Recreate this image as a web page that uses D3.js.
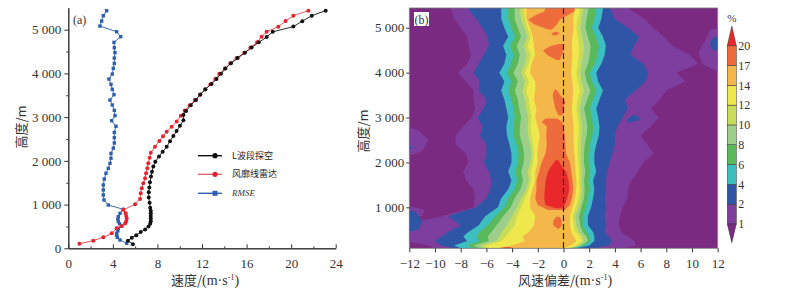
<!DOCTYPE html>
<html lang="zh">
<head>
<meta charset="utf-8">
<title>风速廓线对比</title>
<script src="https://d3js.org/d3.v7.min.js"></script>
<style>
  body { margin: 0; background: #fff; }
  svg { display: block; }
  .tick text { font-family: "Liberation Serif", "DejaVu Serif", serif; font-size: 13px; fill: #333; }
  .tick line, .domain { stroke: #333; }
  .cn { font-family: "Noto Sans CJK SC", sans-serif; font-size: 13px; fill: #333; }
  .leg { font-family: "Noto Sans CJK SC", sans-serif; font-size: 9px; fill: #222; }
  .serif { font-family: "Liberation Serif", "DejaVu Serif", serif; fill: #333; }
</style>
</head>
<body>
<svg width="800" height="292"></svg>
<script>
// ---- panel (a): profiles [speed m/s, height m] ----
const soundSpeed = [5.8,5.35,5.7,6.1,6.5,6.9,7.2,7.35,7.4,7.4,7.4,7.4,7.4,7.35,7.3,7.22,7.22,7.27,7.33,7.42,7.51,7.63,7.81,8.14,8.47,8.83,9.13,9.43,9.72,10.02,10.33,10.33,10.57,10.99,11.46,11.84,12.3,12.85,13.3,13.7,14.1,14.6,15.2,15.85,16.45,17.1,17.8,18.35,20.2,21.0,21.85,23.1];
const soundHeight = [95,170,240,300,370,430,500,560,620,680,740,800,860,930,1040,1160,1280,1390,1510,1640,1750,1870,1980,2100,2210,2320,2450,2570,2680,2800,2930,3050,3140,3270,3390,3520,3640,3760,3870,3990,4110,4230,4350,4470,4590,4710,4830,4950,5070,5195,5320,5435];

const radarSpeed = [1.0,2.24,3.14,3.9,4.34,4.79,5.1,5.2,5.24,5.2,5.15,4.94,5.99,6.44,6.5,6.59,6.73,6.89,6.98,7.09,7.18,7.3,7.4,7.78,8.17,8.5,8.83,9.28,9.73,10.1,10.45,10.9,11.35,11.85,12.3,12.75,13.2,13.55,14.05,14.55,15.1,15.8,16.35,16.95,17.35,17.8,18.85,19.5,20.2,21.55];
const radarHeight = [105,175,251,343,457,510,570,620,680,740,800,880,1006,1127,1258,1372,1486,1600,1715,1829,1944,2070,2186,2323,2454,2560,2667,2781,2900,3030,3150,3270,3390,3510,3630,3750,3870,3990,4110,4230,4350,4470,4590,4710,4839,4953,5067,5197,5319,5433];

const rmseSpeed = [5.24,4.64,4.4,4.34,4.34,4.45,4.49,4.79,4.6,4.49,4.45,4.49,4.64,4.94,3.59,3.2,3.14,3.14,3.14,3.23,3.38,3.59,3.74,3.83,3.83,4.04,4.13,4.13,4.13,4.28,3.89,4.19,4.13,3.95,3.74,4.1,3.95,3.83,3.65,3.95,4.04,4.13,4.13,4.19,4.13,4.1,4.7,4.34,2.84,2.99,3.14,3.44];
const rmseHeight = [114,190,250,300,343,400,457,510,560,610,670,723,800,891,990,1105,1220,1334,1448,1585,1715,1829,1944,2060,2170,2290,2410,2530,2650,2790,2918,3033,3155,3277,3391,3513,3635,3749,3871,3985,4115,4229,4351,4473,4587,4709,4839,4953,5082,5197,5319,5433];

const seriesNames = ["L波段探空", "风廓线雷达", "RMSE"];

// ---- panel (b): frequency (%) contour bands, edges in m/s at each height ----
const rowH = [87,150,250,350,450,600,800,1000,1200,1400,1600,1800,2000,2200,2400,2600,2800,3000,3200,3400,3600,3800,4000,4200,4400,4600,4800,5000,5200,5440];
const edge1L = [-10.0,-10.5,-12.5,-12.5,-12.5,-12.5,-9.5,-7.0,-6.9,-7.0,-7.6,-7.8,-7.4,-7.6,-8.4,-8.4,-7.8,-7.1,-6.9,-7.0,-7.0,-7.6,-8.2,-7.5,-7.2,-7.4,-7.5,-8.0,-8.5,-8.8];
const edge1R = [4.6,5.6,5.5,5.0,4.5,4.3,4.4,4.6,5.0,5.0,5.3,5.8,6.2,7.0,6.5,6.0,6.8,7.4,6.8,7.5,8.0,9.5,8.8,10.5,9.8,8.5,7.8,7.0,6.3,5.0];
const edge2L = [-8.5,-9.5,-10.0,-9.5,-9.0,-8.0,-9.0,-6.8,-6.0,-5.7,-5.6,-5.8,-6.2,-6.0,-6.0,-6.5,-6.3,-6.7,-6.2,-6.0,-6.6,-6.5,-7.0,-6.6,-6.2,-5.8,-5.9,-6.3,-6.8,-7.5];
const edge2R = [2.5,3.5,3.8,3.5,3.2,3.3,3.2,3.3,3.2,3.3,3.3,3.4,3.6,3.8,4.0,4.0,4.2,4.6,5.0,4.8,5.6,6.4,6.6,6.2,5.2,5.5,5.9,5.0,4.0,3.6];
const edge4L = [-8.0,-8.5,-7.5,-7.8,-7.4,-6.6,-6.1,-5.1,-4.85,-4.3,-4.05,-4.3,-4.05,-4.05,-4.2,-4.4,-4.45,-4.3,-4.45,-4.6,-4.85,-4.6,-5.0,-4.6,-4.45,-4.7,-4.3,-4.6,-4.85,-4.85];
const edge4R = [1.0,2.0,2.4,2.4,2.3,1.9,1.9,2.15,2.3,2.4,2.3,2.55,2.4,2.4,2.55,2.75,2.8,2.7,2.55,2.8,3.07,2.7,2.55,2.95,3.2,3.3,3.07,2.7,2.95,3.07];
const edge6L = [-7.0,-7.5,-6.5,-6.8,-6.5,-5.9,-5.3,-4.6,-4.3,-3.8,-3.6,-3.75,-3.55,-3.5,-3.65,-3.9,-3.9,-3.8,-3.9,-4.05,-4.3,-4.05,-4.4,-4.05,-3.9,-4.15,-3.8,-4.05,-4.3,-4.3];
const edge6R = [0.8,1.6,2.1,2.0,1.8,1.5,1.5,1.75,1.9,2.0,1.95,2.05,1.95,1.95,2.05,2.25,2.3,2.2,2.05,2.3,2.55,2.2,2.05,2.45,2.65,2.75,2.5,2.2,2.4,2.55];
const edge8L = [-6.5,-7.0,-5.8,-5.9,-5.6,-5.2,-4.7,-4.1,-3.8,-3.35,-3.15,-3.3,-3.1,-3.05,-3.2,-3.4,-3.4,-3.3,-3.45,-3.55,-3.8,-3.55,-3.9,-3.55,-3.4,-3.65,-3.3,-3.55,-3.8,-3.8];
const edge8R = [0.6,1.4,1.9,1.8,1.5,1.3,1.2,1.4,1.6,1.65,1.6,1.7,1.6,1.6,1.65,1.8,1.85,1.75,1.6,1.85,2.1,1.8,1.65,1.9,2.05,2.1,1.9,1.7,1.8,1.95];
const edge10L = [-6.2,-6.5,-5.2,-5.0,-4.8,-4.4,-4.0,-3.6,-3.3,-2.9,-2.7,-2.8,-2.6,-2.5,-2.6,-2.75,-2.8,-2.75,-2.9,-3.0,-3.2,-3.0,-3.3,-3.0,-2.85,-3.1,-2.8,-3.05,-3.3,-3.4];
const edge10R = [0.5,1.2,1.6,1.5,1.2,1.0,0.9,1.2,1.35,1.45,1.4,1.45,1.35,1.35,1.35,1.4,1.45,1.35,1.25,1.4,1.6,1.4,1.3,1.4,1.55,1.6,1.45,1.3,1.4,1.55];
const edge12L = [-6.0,-6.0,-4.8,-4.5,-4.2,-3.8,-3.6,-3.3,-3.0,-2.7,-2.5,-2.55,-2.35,-2.3,-2.35,-2.5,-2.55,-2.5,-2.6,-2.7,-2.9,-2.7,-3.0,-2.7,-2.55,-2.8,-2.55,-2.8,-3.0,-3.1];
const edge12R = [0.3,1.0,1.4,1.3,0.9,0.8,0.7,0.95,1.15,1.25,1.2,1.2,1.15,1.1,1.1,1.15,1.2,1.1,1.0,1.1,1.3,1.1,1.0,1.1,1.2,1.2,1.1,1.0,1.1,1.3];
const edge14L = [-5.2,-4.0,-3.0,-3.2,-2.7,-2.3,-2.2,-2.6,-2.6,-2.4,-2.2,-2.2,-2.0,-2.05,-1.95,-1.85,-2.0,-2.2,-2.1,-2.3,-2.2,-2.2,-2.6,-2.5,-2.2,-2.3,-2.4,-2.6,-2.9,-2.9];
const edge14R = [0.0,0.6,1.0,0.8,0.6,0.5,0.5,0.7,0.9,1.0,1.0,0.95,0.9,0.85,0.8,0.8,0.8,0.7,0.65,0.7,0.75,0.7,0.6,0.65,0.7,0.65,0.7,0.8,0.75,0.9];

// islands: [height, left, right]
const orangeBlobs = [
  [[4960,-1.2,-0.9],[5080,-2.3,-0.5],[5180,-2.75,-0.3],[5280,-2.2,0.3],[5360,-1.5,0.85],[5440,-1.4,0.9]],
  [[4830,-0.8,-0.6],[4870,-0.95,-0.3],[4910,-0.7,-0.5]],
  [[4280,-0.55,-0.3],[4380,-1.2,-0.15],[4490,-1.6,0.0],[4580,-1.1,0.05],[4640,-0.4,0.0]],
  [[3050,-0.4,-0.05],[3200,-0.65,0.0],[3350,-0.75,0.15],[3500,-0.85,-0.25],[3620,-0.7,-0.55]],
  [[940,-1.2,0.1],[1050,-2.0,0.5],[1200,-2.2,0.65],[1400,-2.1,0.75],[1600,-2.1,0.7],[1800,-1.9,0.6],[2000,-1.7,0.5],[2200,-1.4,0.2],[2400,-1.3,0.15],[2600,-1.35,0.1],[2800,-1.3,0.0],[2900,-1.7,-0.1],[2980,-1.4,-0.5]],
  [[530,-0.5,-0.3],[600,-0.8,-0.15],[700,-0.8,-0.15],[790,-0.55,-0.3]],
  [[87,-5.0,-3.8],[115,-4.6,-4.2]]
];
const redBlobs = [
  [[980,-0.6,-0.2],[1050,-1.4,0.1],[1200,-1.5,0.3],[1400,-1.45,0.45],[1600,-1.4,0.4],[1800,-1.2,0.2],[1900,-1.0,-0.1],[2050,-0.6,-0.4]],
  [[87,-4.8,-4.0],[100,-4.5,-4.2]]
];
// edge patches: [height, left, right]
const purplePatches = [
  [[2100,-12.5,-12.5],[2250,-12.5,-11.0],[2500,-12.5,-10.5],[2700,-12.5,-11.2],[2850,-12.5,-12.5]],
  [[3950,12.5,12.5],[4200,10.8,12.5],[4450,10.5,12.5],[4700,11.0,12.5],[4950,11.4,12.5],[5050,12.5,12.5]],
  [[800,-12.5,-11.0],[950,-12.5,-10.8],[1050,-12.5,-12.5]]
];
const bluePatches = [
  [[2250,-12.5,-12.5],[2330,-12.5,-11.6],[2420,-12.5,-12.5]],
  [[420,-12.5,-12.5],[500,-12.5,-11.3],[700,-12.5,-11.0],[900,-12.5,-11.5],[950,-12.5,-12.5]],
  [[4500,11.6,12.5],[4650,11.4,12.5],[4800,11.7,12.5]],
  [[2880,5.0,5.0],[2950,4.9,6.0],[3020,5.2,5.8],[3060,5.5,5.5]]
];

const thresholds = [1,2,4,6,8,10,12,14,17,20];
const bandColors = ["#7a2a80","#7d3e9d","#2f56a6","#3dbec0","#5ab95b","#9dcf8b","#c8dc5a","#efe84c","#f4b84a","#ee6b3b","#e8282b"];

const svg = d3.select("svg");
const fmt = d => d3.format(",")(d).replace(/,/g, " ");

// axis title: CJK part + unit in serif with superscript
function unitLabel(g, x, cnText) {
  const t = g.append("text").attr("x", x).attr("y", 285).attr("text-anchor", "middle").style("fill", "#333");
  t.append("tspan").attr("class", "cn").text(cnText);
  t.append("tspan").attr("class", "serif").style("font-size", "14px").text("(m·s");
  t.append("tspan").attr("class", "serif").attr("dy", -5).style("font-size", "8px").text("-1");
  t.append("tspan").attr("class", "serif").attr("dy", 5).style("font-size", "14px").text(")");
}

// ================= panel (a) =================
const xA = d3.scaleLinear().domain([0, 24]).range([68.3, 335.7]);
const yA = d3.scaleLinear().domain([0, 5500]).range([248.3, 7.8]);

const gA = svg.append("g");

gA.append("g").attr("transform", "translate(68.3,0)")
  .call(d3.axisLeft(yA).tickValues(d3.range(500, 5500, 1000)).tickSize(2).tickSizeOuter(0).tickFormat(""));
gA.append("g").attr("transform", "translate(68.3,0)")
  .call(d3.axisLeft(yA).tickValues(d3.range(0, 5001, 1000)).tickSize(4).tickPadding(3).tickSizeOuter(0).tickFormat(fmt));
gA.append("g").attr("transform", "translate(0,248.3)")
  .call(d3.axisBottom(xA).tickValues(d3.range(2, 24, 4)).tickSize(-2).tickSizeOuter(0).tickFormat(""));
gA.append("g").attr("transform", "translate(0,248.3)")
  .call(d3.axisBottom(xA).tickValues(d3.range(0, 25, 4)).tickSize(-4).tickPadding(10).tickSizeOuter(0));

const lineA = d3.line().x(d => xA(d[0])).y(d => yA(d[1]));
const sound = soundSpeed.map((v, i) => [v, soundHeight[i]]);
const radar = radarSpeed.map((v, i) => [v, radarHeight[i]]);
const rmse = rmseSpeed.map((v, i) => [v, rmseHeight[i]]);

gA.append("path").datum(rmse).attr("d", lineA).attr("fill", "none").attr("stroke", "#2d5fb3").attr("stroke-width", 0.9);
gA.selectAll(".rm").data(rmse).enter().append("rect")
  .attr("x", d => xA(d[0]) - 1.7).attr("y", d => yA(d[1]) - 1.7)
  .attr("width", 3.4).attr("height", 3.4).attr("fill", "#2d5fb3");

gA.append("path").datum(radar).attr("d", lineA).attr("fill", "none").attr("stroke", "#e8404a").attr("stroke-width", 0.9);
gA.selectAll(".rd").data(radar).enter().append("circle")
  .attr("cx", d => xA(d[0])).attr("cy", d => yA(d[1])).attr("r", 2).attr("fill", "#e8222d");

gA.append("path").datum(sound).attr("d", lineA).attr("fill", "none").attr("stroke", "#111").attr("stroke-width", 0.9);
gA.selectAll(".sd").data(sound).enter().append("circle")
  .attr("cx", d => xA(d[0])).attr("cy", d => yA(d[1])).attr("r", 2).attr("fill", "#111");

// legend
const legColors = ["#111", "#e06a72", "#2d5fb3"];
const legMark = ["#111", "#e8222d", "#2d5fb3"];
const leg = gA.selectAll(".lg").data(seriesNames).enter().append("g")
  .attr("transform", (d, i) => "translate(198," + [155.7, 174.3, 193.3][i] + ")");
leg.append("line").attr("x1", 0).attr("x2", 24).attr("stroke", (d, i) => legColors[i]).attr("stroke-width", 1.4);
leg.each(function(d, i) {
  const g = d3.select(this);
  if (i < 2) g.append("circle").attr("cx", 17).attr("r", 2.6).attr("fill", legMark[i]);
  else g.append("rect").attr("x", 14.5).attr("y", -2.5).attr("width", 5).attr("height", 5).attr("fill", legMark[i]);
});
leg.append("text").attr("x", 34).attr("dy", "0.35em")
  .attr("class", (d, i) => i < 2 ? "leg" : "serif")
  .style("font-size", "9px").style("font-style", (d, i) => i === 2 ? "italic" : null)
  .text(d => d);

gA.append("text").attr("class", "serif").attr("x", 73).attr("y", 24).style("font-size", "12px").text("(a)");

gA.append("text").attr("class", "cn").attr("transform", "translate(26,127) rotate(-90)")
  .attr("text-anchor", "middle").text("高度/m");
unitLabel(gA, 205, "速度/");

// ================= panel (b) =================
const xB = d3.scaleLinear().domain([-12, 12]).range([409.3, 717.7]);
const yB = d3.scaleLinear().domain([87, 5440]).range([248.3, 8]);

const gB = svg.append("g");
gB.append("clipPath").attr("id", "clipB").append("rect")
  .attr("x", xB(-12)).attr("y", yB(5440)).attr("width", xB(12) - xB(-12)).attr("height", yB(87) - yB(5440));

const plot = gB.append("g").attr("clip-path", "url(#clipB)");
plot.append("rect").attr("x", xB(-12)).attr("y", yB(5440))
  .attr("width", xB(12) - xB(-12)).attr("height", yB(87) - yB(5440)).attr("fill", bandColors[0]);

const areaB = d3.area().y(d => yB(d[0])).x0(d => xB(d[1])).x1(d => xB(d[2]));
const bandEdges = [[edge1L, edge1R], [edge2L, edge2R], [edge4L, edge4R], [edge6L, edge6R],
                   [edge8L, edge8R], [edge10L, edge10R], [edge12L, edge12R], [edge14L, edge14R]];

bandEdges.forEach((e, k) => {
  const rows = rowH.map((h, i) => [h, e[0][i], e[1][i]]);
  plot.append("path").datum(rows).attr("d", areaB).attr("fill", bandColors[k + 1]);
  if (k === 0) purplePatches.forEach(p => plot.append("path").datum(p).attr("d", areaB).attr("fill", bandColors[1]));
  if (k === 1) bluePatches.forEach(p => plot.append("path").datum(p).attr("d", areaB).attr("fill", bandColors[2]));
});
orangeBlobs.forEach(p => plot.append("path").datum(p).attr("d", areaB).attr("fill", bandColors[9]));
redBlobs.forEach(p => plot.append("path").datum(p).attr("d", areaB).attr("fill", bandColors[10]));

// zero line
plot.append("line").attr("x1", xB(0)).attr("x2", xB(0)).attr("y1", yB(5440)).attr("y2", yB(87))
  .attr("stroke", "#222").attr("stroke-width", 1.2).attr("stroke-dasharray", "6,3");

gB.append("rect").attr("x", xB(-12)).attr("y", yB(5440))
  .attr("width", xB(12) - xB(-12)).attr("height", yB(87) - yB(5440))
  .attr("fill", "none").attr("stroke", "#777").attr("stroke-width", 0.8);

gB.append("g").attr("transform", "translate(" + xB(-12) + ",0)")
  .call(d3.axisLeft(yB).tickValues(d3.range(1000, 5001, 1000)).tickSize(3).tickPadding(2).tickSizeOuter(0).tickFormat(fmt))
  .call(g => g.select(".domain").remove());
gB.append("g").attr("transform", "translate(0," + yB(87) + ")")
  .call(d3.axisBottom(xB).tickValues(d3.range(-12, 13, 2)).tickSize(4).tickPadding(6).tickSizeOuter(0))
  .call(g => g.select(".domain").remove());

gB.append("rect").attr("x", 414).attr("y", 12).attr("width", 15).attr("height", 14).attr("fill", "#fff");
gB.append("text").attr("class", "serif").attr("x", 421.5).attr("y", 23.5).attr("text-anchor", "middle")
  .style("font-size", "12px").text("(b)");

gB.append("text").attr("class", "cn").attr("transform", "translate(368,131) rotate(-90)")
  .attr("text-anchor", "middle").text("高度/m");
unitLabel(gB, 565, "风速偏差/");

// colour bar
const cbX = 727.3, cbW = 9;
const cbY = d3.scaleLinear().domain([0, thresholds.length - 1]).range([224, 45.7]);
const cb = gB.append("g");
thresholds.slice(0, -1).forEach((t, j) => {
  cb.append("rect").attr("x", cbX).attr("y", cbY(j + 1)).attr("width", cbW)
    .attr("height", cbY(j) - cbY(j + 1)).attr("fill", bandColors[j + 1])
    .attr("stroke", "#333").attr("stroke-width", 0.5);
});
cb.append("path").attr("d", `M${cbX},${cbY(9)} L${cbX + cbW / 2},26 L${cbX + cbW},${cbY(9)} Z`)
  .attr("fill", bandColors[10]).attr("stroke", "#333").attr("stroke-width", 0.5);
cb.append("path").attr("d", `M${cbX},${cbY(0)} L${cbX + cbW / 2},242.7 L${cbX + cbW},${cbY(0)} Z`)
  .attr("fill", bandColors[0]).attr("stroke", "#333").attr("stroke-width", 0.5);
cb.selectAll(".cbt").data(thresholds).enter().append("text")
  .attr("class", "serif").style("font-size", "12px")
  .attr("x", cbX + cbW + 2).attr("y", (d, j) => cbY(j)).attr("dy", "0.35em").text(d => d);
cb.append("text").attr("class", "serif").style("font-size", "11px")
  .attr("x", cbX + cbW / 2).attr("y", 22).attr("text-anchor", "middle").text("%");
</script>
</body>
</html>
